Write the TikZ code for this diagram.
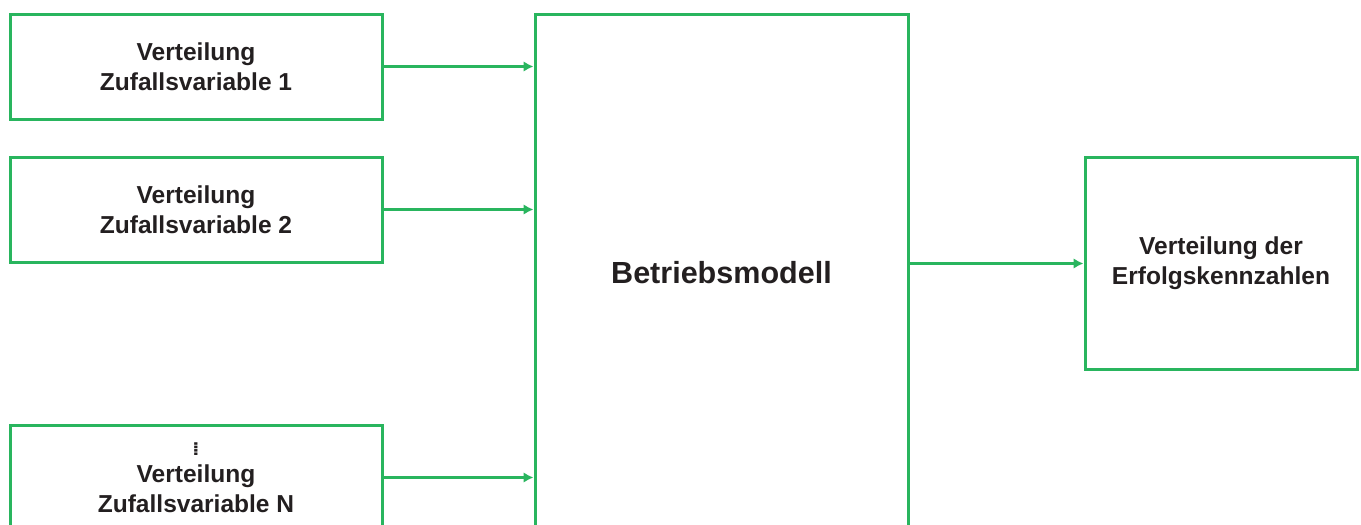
\documentclass[tikz,border=0pt]{standalone}
\usepackage{fontspec}
\setmainfont{Liberation Sans}
\newfontfamily\dotsfont{DejaVu Sans}
\usetikzlibrary{arrows.meta}
\definecolor{boxgreen}{RGB}{41,181,94}
\definecolor{txtgray}{RGB}{35,31,32}

\begin{document}
\begin{tikzpicture}[x=0.75pt,y=-0.75pt,
  box/.style={draw=boxgreen,line width=2.25pt,inner sep=0pt,align=center,text=txtgray,
    font=\bfseries\fontsize{18.4}{22.5}\selectfont},
  invar/.style={box,minimum width=279pt,minimum height=78.75pt},
  link/.style={draw=boxgreen,line width=2.25pt,-{Latex[length=7.5pt,width=8pt]}}]
  \useasboundingbox (0,0) rectangle (1361,525);
  \clip (0,0) rectangle (1361,525);
  % Eingangsverteilungen
  \node[invar] (var1) at (196,66.5) {Verteilung\\Zufallsvariable 1};
  \node[invar] (var2) at (196,209.5) {Verteilung\\Zufallsvariable 2};
  \node[invar] (varN) at (196,477.5) {{\dotsfont\fontsize{14}{14}\selectfont ⁞}\\[-2pt]Verteilung\\Zufallsvariable N};
  % Modell und Ergebnis
  \node[box,minimum width=279.75pt,minimum height=388.5pt,font=\bfseries\fontsize{22.9}{27}\selectfont]
    (model) at (721.5,273) {Betriebsmodell};
  \node[box,minimum width=204pt,minimum height=159pt] (result) at (1221,263.5) {Verteilung der\\Erfolgskennzahlen};
  \foreach \v in {var1,var2,varN}
    \draw[link] (\v.east) -- (\v.east -| model.west);
  \draw[link] (model.east |- result.west) -- (result.west);
\end{tikzpicture}
\end{document}
